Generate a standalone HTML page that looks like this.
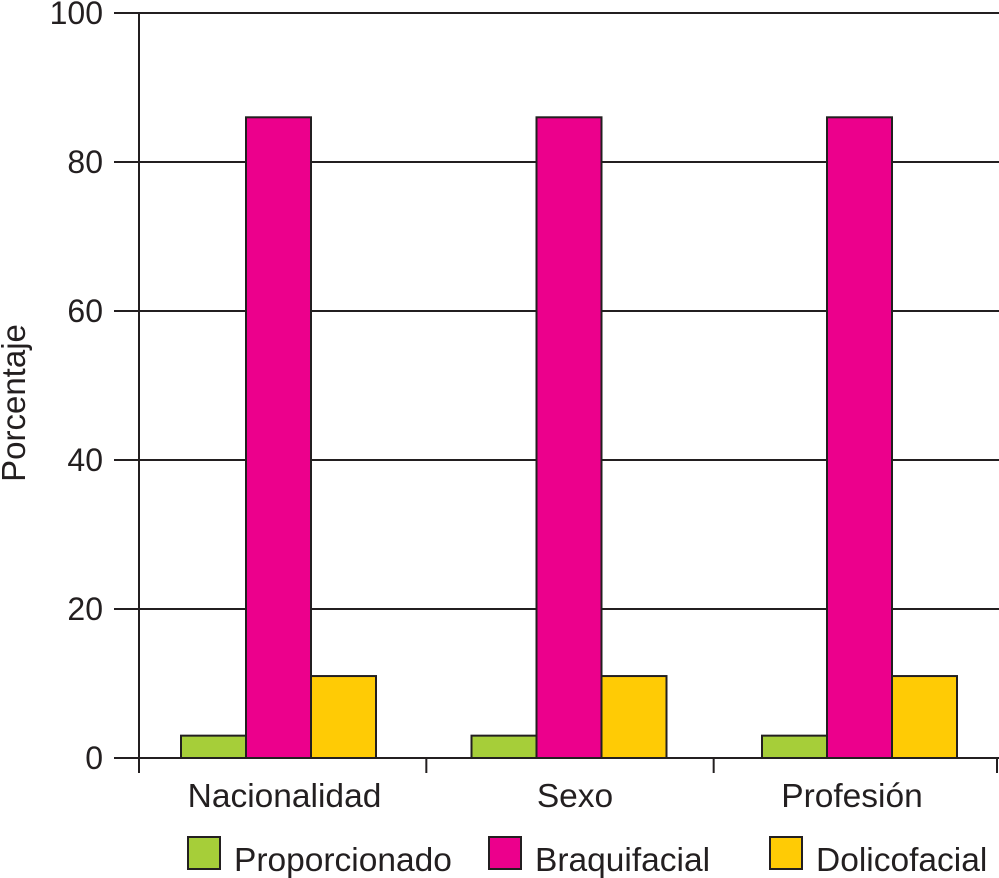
<!DOCTYPE html>
<html><head><meta charset="utf-8"><style>
html,body{margin:0;padding:0;background:#fff;}
svg{display:block;font-family:"Liberation Sans",Arial,sans-serif;}
</style></head><body>
<svg id="chart" width="999" height="878" viewBox="0 0 999 878" xmlns="http://www.w3.org/2000/svg">
<g id="grid"></g>
<g id="bars"></g>
<g id="axes"></g>
<text x="0" y="0" transform="translate(25,403) rotate(-90)" text-anchor="middle" font-size="33" fill="#231f20">Porcentaje</text>
<g id="legend"></g>
</svg>
<script>
const categories = ["Nacionalidad", "Sexo", "Profesión"];
const seriesNames = ["Proporcionado", "Braquifacial", "Dolicofacial"];
const proporcionado = [3, 3, 3];
const braquifacial = [86, 86, 86];
const dolicofacial = [11, 11, 11];
const yTicks = [0, 20, 40, 60, 80, 100];

const colors = ["#a6ce39", "#ec008c", "#ffcb05"];
const NS = "http://www.w3.org/2000/svg";
const x0 = 139, x1 = 1001, yBase = 758, yTop = 13;
const yScale = v => yBase - (v / 100) * (yBase - yTop);
const catW = (x1 - x0) / categories.length;
const barW = 65;
const groupW = 290.5;
const xBar = (ci, si) => 278.5 + groupW * ci - 1.5 * barW + si * barW;

function mk(tag, attrs, parent) {
  const e = document.createElementNS(NS, tag);
  for (const k in attrs) e.setAttribute(k, attrs[k]);
  parent.appendChild(e);
  return e;
}
const grid = document.getElementById("grid");
const axes = document.getElementById("axes");
const bars = document.getElementById("bars");
const legend = document.getElementById("legend");
const stroke = "#231f20";

yTicks.forEach(t => {
  const y = yScale(t);
  const l = mk("line", {x1: 114, x2: 999, y1: y, y2: y, stroke: stroke, "stroke-width": 2}, t === 0 ? axes : grid);
  
  
  const tx = mk("text", {x: 103, y: y + 11, "text-anchor": "end", "font-size": 32, fill: stroke}, axes);
  tx.textContent = t;
  
  
});

const yl = mk("line", {x1: x0, x2: x0, y1: yTop, y2: 773, stroke: stroke, "stroke-width": 2}, axes);



for (let i = 1; i <= categories.length; i++) {
  const x = Math.min(x0 + catW * i, 997);
  const tk = mk("line", {x1: x, x2: x, y1: yBase, y2: 773, stroke: stroke, "stroke-width": 2}, axes);
  
  
}

const labelCx = [284.5, 575, 852];
const series = [proporcionado, braquifacial, dolicofacial];
categories.forEach((c, ci) => {
  series.forEach((s, si) => {
    const y = yScale(s[ci]);
    const r = mk("rect", {x: xBar(ci, si), y: y, width: barW, height: yBase - y, fill: colors[si], stroke: stroke, "stroke-width": 2}, bars);
    
    
  });
  const t = mk("text", {x: labelCx[ci], y: 807, "text-anchor": "middle", "font-size": 33.5, fill: stroke}, axes);
  t.textContent = c;
  
  
});

const legX = [188, 489, 770];
seriesNames.forEach((n, i) => {
  const r = mk("rect", {x: legX[i], y: 837, width: 32, height: 32, fill: colors[i], stroke: stroke, "stroke-width": 2}, legend);
  
  
  const t = mk("text", {x: legX[i] + 46, y: 871, "font-size": 33.5, fill: stroke}, legend);
  t.textContent = n;
  
  
});
</script>
</body></html>
